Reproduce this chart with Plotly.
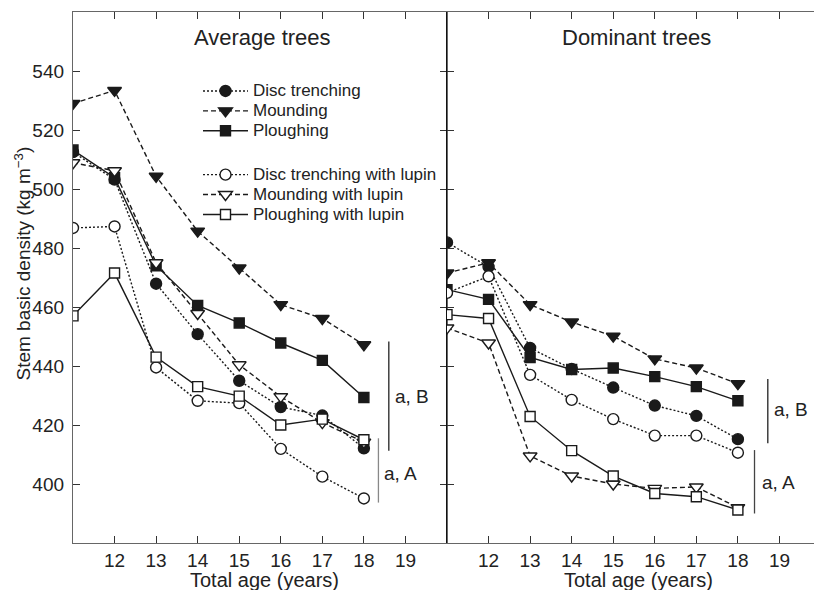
import plotly.graph_objects as go

ages = [11, 12, 13, 14, 15, 16, 17, 18]

avg_disc = [512.5, 503.2, 467.9, 450.8, 435.0, 426.1, 423.2, 412.1]
avg_mound = [529.0, 533.4, 504.3, 485.7, 473.2, 460.8, 456.1, 447.2]
avg_plough = [513.2, 503.8, 474.0, 460.5, 454.6, 447.8, 441.9, 429.3]
avg_disc_lupin = [486.8, 487.3, 439.5, 428.2, 427.4, 411.9, 402.5, 395.1]
avg_mound_lupin = [508.9, 506.2, 475.0, 457.8, 440.4, 429.6, 420.8, 414.2]
avg_plough_lupin = [457.0, 471.5, 443.0, 433.0, 429.8, 420.0, 422.0, 415.0]

dom_disc = [481.9, 473.6, 446.1, 439.0, 432.7, 426.6, 423.1, 415.2]
dom_mound = [471.5, 475.0, 460.8, 454.9, 450.1, 442.4, 439.3, 434.0]
dom_plough = [465.9, 462.6, 442.9, 438.8, 439.3, 436.4, 433.0, 428.2]
dom_disc_lupin = [464.8, 470.4, 437.0, 428.5, 422.0, 416.4, 416.4, 410.6]
dom_mound_lupin = [452.9, 447.8, 409.5, 402.7, 400.0, 398.5, 399.0, 392.0]
dom_plough_lupin = [457.4, 456.1, 422.9, 411.3, 402.7, 396.8, 395.7, 391.2]

names = ["Disc trenching", "Mounding", "Ploughing",
         "Disc trenching with lupin", "Mounding with lupin", "Ploughing with lupin"]
x_tickvals = [12, 13, 14, 15, 16, 17, 18, 19]
x_ticktext = ["12", "13", "14", "15", "16", "17", "18", "19"]
y_tickvals = [400, 420, 440, 460, 480, 500, 520, 540]

INK = "#1a1a1a"
FONT = "Liberation Sans, Arial, sans-serif"
DOT = "2px,2px"
DASH = "5px,3px"
styles = [
    dict(dash=DOT, symbol="circle", fill=INK, size=11),
    dict(dash=DASH, symbol="triangle-down", fill=INK, size=12),
    dict(dash="solid", symbol="square", fill=INK, size=10),
    dict(dash=DOT, symbol="circle", fill="white", size=11),
    dict(dash=DASH, symbol="triangle-down", fill="white", size=12),
    dict(dash="solid", symbol="square", fill="white", size=10),
]
groups = ["g1", "g1", "g1", "g2", "g2", "g2"]

avg_series = [avg_disc, avg_mound, avg_plough, avg_disc_lupin, avg_mound_lupin, avg_plough_lupin]
dom_series = [dom_disc, dom_mound, dom_plough, dom_disc_lupin, dom_mound_lupin, dom_plough_lupin]

fig = go.Figure()
for i, (name, st) in enumerate(zip(names, styles)):
    fig.add_trace(go.Scatter(
        x=ages, y=avg_series[i], mode="lines+markers",
        name="<span style='font-size:17px'>%s</span>" % name,
        legendgroup=groups[i], xaxis="x", yaxis="y",
        line=dict(color=INK, width=1.4, dash=st["dash"]),
        marker=dict(symbol=st["symbol"], size=st["size"], color=st["fill"],
                    line=dict(color=INK, width=1.4)),
    ))
for i, (name, st) in enumerate(zip(names, styles)):
    fig.add_trace(go.Scatter(
        x=ages, y=dom_series[i], name=name, mode="lines+markers",
        legendgroup=groups[i], showlegend=False, xaxis="x2", yaxis="y2",
        line=dict(color=INK, width=1.4, dash=st["dash"]),
        marker=dict(symbol=st["symbol"], size=st["size"], color=st["fill"],
                    line=dict(color=INK, width=1.4)),
    ))

W, H = 814, 590
ml, mr, mt, mb = 73, 0, 12, 47
plot_w = W - ml - mr
plot_h = H - mt - mb
split = (447 - ml) / plot_w
px_per_year = (447 - ml) / 9.0

axis_font = dict(family=FONT, size=19, color="#222")
common_x = dict(tickvals=x_tickvals, ticktext=x_ticktext, ticks="inside",
                ticklen=7, tickcolor="#333", showline=True, linecolor="#666", linewidth=1.3,
                mirror="ticks", showgrid=False, zeroline=False, tickfont=axis_font,
                automargin=False)
common_y = dict(range=[380, 560], tickvals=y_tickvals, ticks="inside", ticklen=7, tickcolor="#333",
                showline=True, linewidth=1.3, showgrid=False, zeroline=False,
                tickfont=axis_font, automargin=False)

fig.update_layout(
    width=W, height=H, margin=dict(l=ml, r=mr, t=mt, b=mb, autoexpand=False),
    plot_bgcolor="white", paper_bgcolor="white",
    font=dict(family=FONT, color="#222"),
    xaxis=dict(common_x, domain=[0, split], anchor="y", range=[11, 20]),
    xaxis2=dict(common_x, domain=[split, 1], anchor="y2",
                range=[11, 11 + (W - 447) / px_per_year]),
    yaxis=dict(common_y, linecolor="#666", mirror="ticks", anchor="x", ticklabelstandoff=4),
    yaxis2=dict(common_y, linecolor="#111", mirror=False, showticklabels=False, anchor="x2"),
    legend=dict(x=(198 - ml) / plot_w, y=(543 - 76) / plot_h, xanchor="left", yanchor="top",
                bgcolor="rgba(0,0,0,0)", font=dict(family=FONT, size=13, color="#222"),
                tracegroupgap=24, itemwidth=45, traceorder="grouped"),
    showlegend=True,
)

# axis titles
fig.add_annotation(x=(22 - ml) / plot_w, y=(543 - 263.5) / plot_h, xref="paper", yref="paper",
                   xanchor="center", yanchor="middle",
                   text="Stem basic density (kg m<sup>\u22123</sup>)", textangle=-90,
                   showarrow=False, font=dict(size=19, color="#222"))
for xr in ("x", "x2"):
    fig.add_annotation(x=15.6, y=(543 - 580) / plot_h, xref=xr, yref="paper",
                       text="Total age (years)", showarrow=False, yanchor="middle",
                       font=dict(size=20, color="#222"))

# panel titles
fig.add_annotation(x=15.55, y=551.5, xref="x", yref="y", text="Average trees", showarrow=False,
                   font=dict(size=22, color="#222"))
fig.add_annotation(x=15.55, y=551.5, xref="x2", yref="y2", text="Dominant trees", showarrow=False,
                   font=dict(size=22, color="#222"))

# significance groups
sig = [
    ("x", "y", 18.60, 448.3, 411.3, 18.70, 429.5, "a, B", "#222"),
    ("x", "y", 18.35, 415.5, 393.7, 18.43, 403.6, "a, A", "#888"),
    ("x2", "y2", 18.72, 435.6, 413.8, 18.82, 425.3, "a, B", "#222"),
    ("x2", "y2", 18.40, 411.5, 390.0, 18.52, 400.4, "a, A", "#444"),
]
for xr, yr, lx, y0, y1, tx, ty, txt, col in sig:
    fig.add_shape(type="line", xref=xr, yref=yr, x0=lx, x1=lx, y0=y0, y1=y1,
                  line=dict(color=col, width=1.3))
    fig.add_annotation(x=tx, y=ty, xref=xr, yref=yr, text=txt, showarrow=False,
                       xanchor="left", font=dict(size=19, color="#222"))

fig.write_html("out.html", config={"displayModeBar": False},
               post_script="document.body.style.margin='0px';")
